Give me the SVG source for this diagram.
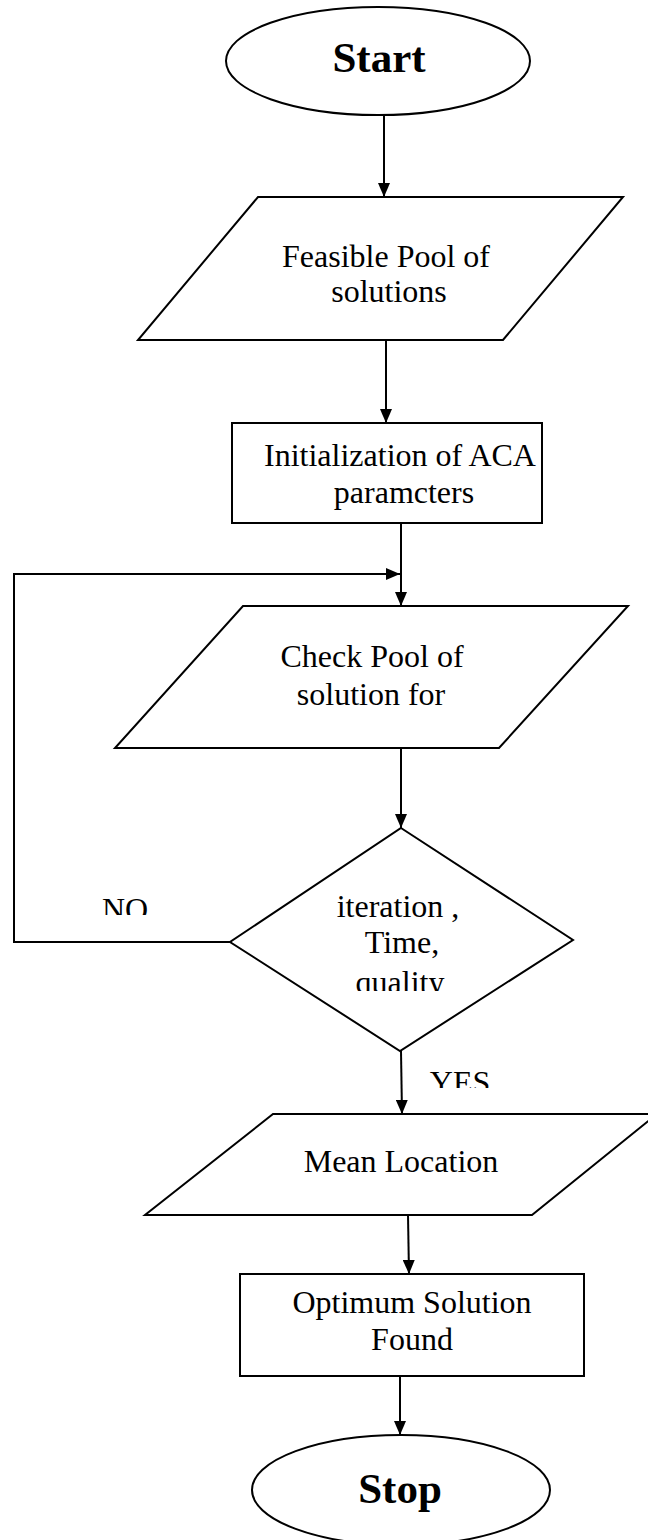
<svg xmlns="http://www.w3.org/2000/svg" width="648" height="1540" viewBox="0 0 648 1540">
<style>
.shape{fill:#fff;stroke:#000;stroke-width:2}
.conn{fill:none;stroke:#000;stroke-width:2}
.t{font-family:"Liberation Serif","Times New Roman",serif;font-size:32px;fill:#000;text-anchor:middle}
.tb{font-family:"Liberation Serif","Times New Roman",serif;font-size:43px;font-weight:bold;fill:#000;text-anchor:middle}
</style>
<defs>
<marker id="arr" viewBox="0 0 14 12" refX="14" refY="6" markerWidth="14" markerHeight="12" markerUnits="userSpaceOnUse" orient="auto">
<path d="M0,0 L14,6 L0,12 z" fill="#000"/>
</marker>
<clipPath id="clipNo"><rect x="90" y="880" width="80" height="35"/></clipPath>
<clipPath id="clipYes"><rect x="420" y="1060" width="90" height="28"/></clipPath>
<clipPath id="clipQ"><rect x="340" y="960" width="120" height="31"/></clipPath>
</defs>
<rect width="648" height="1540" fill="#fff"/>
<g id="connectors">
<line class="conn" x1="384" y1="115" x2="384" y2="197" marker-end="url(#arr)"/>
<line class="conn" x1="386" y1="340" x2="386" y2="423" marker-end="url(#arr)"/>
<line class="conn" x1="401" y1="523" x2="401" y2="606" marker-end="url(#arr)"/>
<polyline class="conn" points="230,942 14,942 14,574 400,574" marker-end="url(#arr)"/>
<line class="conn" x1="401" y1="748" x2="401" y2="828" marker-end="url(#arr)"/>
<line class="conn" x1="401" y1="1051" x2="402" y2="1114" marker-end="url(#arr)"/>
<line class="conn" x1="408" y1="1215" x2="409" y2="1274" marker-end="url(#arr)"/>
<line class="conn" x1="400" y1="1376" x2="400" y2="1435" marker-end="url(#arr)"/>
<text class="t" x="125" y="920" clip-path="url(#clipNo)">NO</text>
<text class="t" x="460" y="1093" clip-path="url(#clipYes)">YES</text>
</g>
<g id="start">
<ellipse class="shape" cx="378" cy="61" rx="152" ry="54"/>
<text class="tb" x="379" y="72">Start</text>
</g>
<g id="feasible">
<polygon class="shape" points="258,197 623,197 503,340 138,340"/>
<text class="t" x="386" y="267">Feasible Pool of</text>
<text class="t" x="389" y="302">solutions</text>
</g>
<g id="init">
<rect class="shape" x="232" y="423" width="310" height="100"/>
<text class="t" x="400" y="466">Initialization of ACA</text>
<text class="t" x="404" y="503">paramcters</text>
</g>
<g id="check">
<polygon class="shape" points="243,606 628,606 499,748 115,748"/>
<text class="t" x="372" y="667">Check Pool of</text>
<text class="t" x="371" y="705">solution for</text>
</g>
<g id="decision">
<polygon class="shape" points="401,828 573,940 400,1051 230,942"/>
<text class="t" x="398" y="917">iteration ,</text>
<text class="t" x="402" y="953">Time,</text>
<text class="t" x="400" y="993" clip-path="url(#clipQ)">quality</text>
</g>
<g id="mean">
<polygon class="shape" points="273,1114 657,1114 532,1215 145,1215"/>
<text class="t" x="401" y="1172">Mean Location</text>
</g>
<g id="optimum">
<rect class="shape" x="240" y="1274" width="344" height="102"/>
<text class="t" x="412" y="1313">Optimum Solution</text>
<text class="t" x="412" y="1350">Found</text>
</g>
<g id="stop">
<ellipse class="shape" cx="401" cy="1490" rx="149" ry="55"/>
<text class="tb" x="400" y="1503">Stop</text>
</g>
</svg>
